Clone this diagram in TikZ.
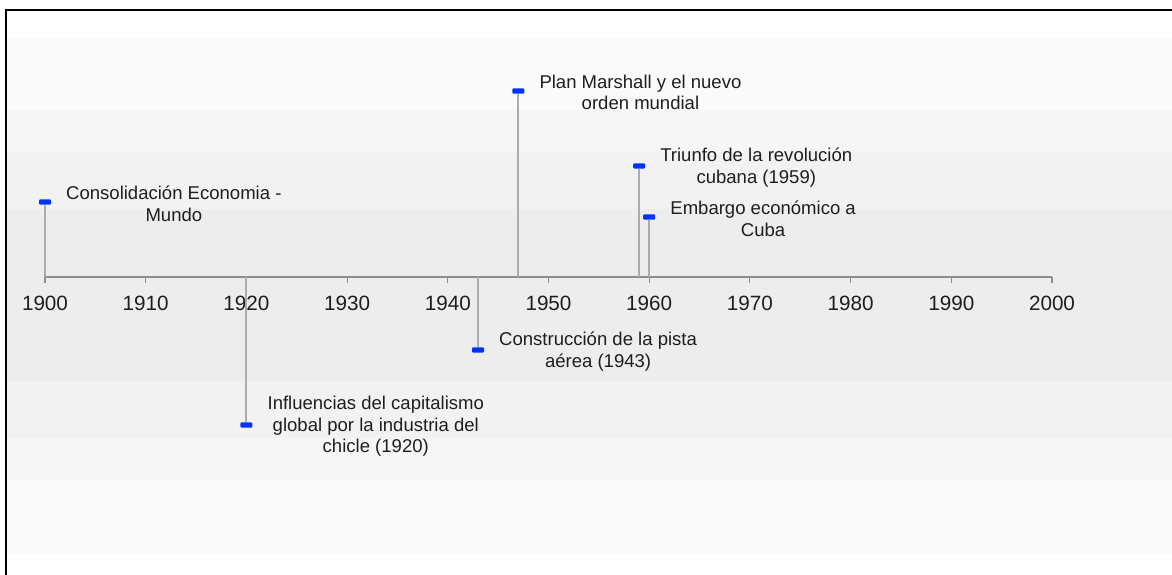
\documentclass[tikz,border=0pt]{standalone}
\usepackage{fontspec}
\setmainfont{Liberation Sans}
\usetikzlibrary{positioning}
\definecolor{markblue}{RGB}{0, 51, 255}
\definecolor{stemgray}{RGB}{172, 172, 172}
\definecolor{axisgray}{RGB}{140, 140, 140}
\definecolor{textgray}{RGB}{30, 30, 30}
\definecolor{bandone}{RGB}{250, 250, 250}
\definecolor{bandtwo}{RGB}{246, 246, 246}
\definecolor{bandthree}{RGB}{242, 242, 242}
\definecolor{bandfour}{RGB}{237, 237, 237}
\tikzset{
  evmark/.style={fill=markblue, minimum width=9pt, minimum height=4pt, inner sep=0pt, rounded corners=0.8pt},
  evstem/.style={draw=stemgray, line width=1.5pt},
  evlabel/.style={font=\fontsize{13.9}{16.1}\selectfont, text=textgray, align=center, inner sep=0pt, anchor=west, yshift=-1.2pt},
  yearlabel/.style={font=\fontsize{15.5}{18}\selectfont, text=textgray, inner sep=0pt},
  axisline/.style={draw=axisgray, line width=1.1pt}
}

\begin{document}
\begin{tikzpicture}[x=0.75pt, y=-0.75pt]
  \useasboundingbox (0,0) rectangle (1172,575);

  % background bands
  \fill[white] (0,0) rectangle (1172,575);
  \fill[bandone] (7,38) rectangle (1172,553);
  \fill[bandtwo] (7,110) rectangle (1172,480);
  \fill[bandthree] (7,152) rectangle (1172,438);
  \fill[bandfour] (7,209) rectangle (1172,381);

  % frame
  \draw[black, line width=1.1pt] (6,575) -- (6,10) -- (1172,10);

  % axis
  \coordinate (axstart) at (45,277);
  \coordinate (axend) at (1052,277);
  \draw[axisline] (axstart) -- (axend);
  \foreach \yr in {1900,1910,...,2000} {
    \pgfmathsetmacro{\xx}{45+(\yr-1900)*10.07}
    \draw[axisline, line width=0.8pt] (\xx,277) -- (\xx,283);
    \node[yearlabel] (y\yr) at (\xx,303) {\yr};
  }

  % events above
  \node[evmark] (m1900) at (45,202) {};
  \coordinate (a1900) at (45,277);
  \draw[evstem] (m1900) -- (a1900);
  \node[evlabel, right=11pt of m1900] (t1900) {Consolidación Economia -\\Mundo};

  \node[evmark] (m1947) at (518.3,91) {};
  \coordinate (a1947) at (518.3,277);
  \draw[evstem] (m1947) -- (a1947);
  \node[evlabel, right=11pt of m1947] (t1947) {Plan Marshall y el nuevo\\orden mundial};

  \node[evmark] (m1959) at (639.1,166) {};
  \coordinate (a1959) at (639.1,277);
  \draw[evstem] (m1959) -- (a1959);
  \node[evlabel, right=11pt of m1959] (t1959) {Triunfo de la revolución\\cubana (1959)};

  \node[evmark] (m1960) at (649.2,217) {};
  \coordinate (a1960) at (649.2,277);
  \draw[evstem] (m1960) -- (a1960);
  \node[evlabel, right=11pt of m1960] (t1960) {Embargo económico a\\Cuba};

  % events below
  \node[evmark] (m1920) at (246.4,425) {};
  \coordinate (a1920) at (246.4,277);
  \draw[evstem] (a1920) -- (m1920);
  \node[evlabel, right=11pt of m1920] (t1920) {Influencias del capitalismo\\global por la industria del\\chicle (1920)};

  \node[evmark] (m1943) at (478,350) {};
  \coordinate (a1943) at (478,277);
  \draw[evstem] (a1943) -- (m1943);
  \node[evlabel, right=11pt of m1943] (t1943) {Construcción de la pista\\aérea (1943)};
\end{tikzpicture}
\end{document}
